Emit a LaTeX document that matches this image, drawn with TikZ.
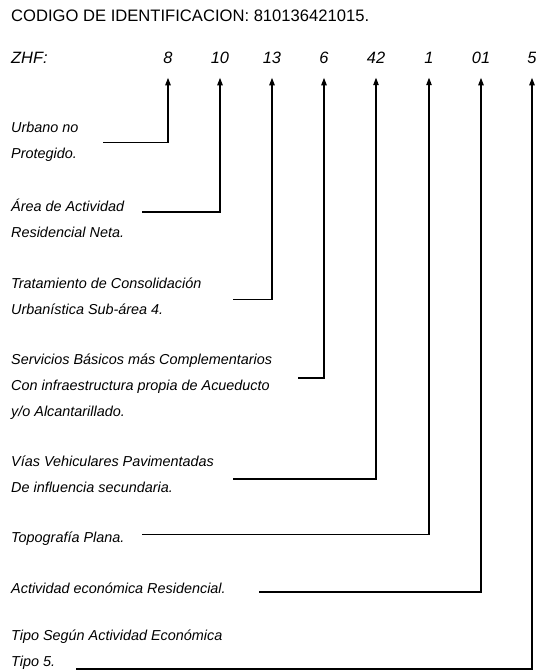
\documentclass[tikz,border=0pt]{standalone}
\usepackage{fontspec}
\setmainfont{Liberation Sans}
\usetikzlibrary{arrows.meta}
\begin{document}
\begin{tikzpicture}[
        x=1pt, y=-1pt,
        digit/.style={anchor=base, inner sep=0pt, font=\fontsize{16.4}{19}\selectfont\itshape},
        desc/.style={anchor=base west, inner sep=0pt, align=left, font=\fontsize{14.4}{25.7}\selectfont\itshape},
        arrow/.style={-{Triangle[width=5.5pt,length=7.5pt]}, line width=1.1pt, shorten >=14.5pt}
    ]
        \useasboundingbox (0,0) rectangle (536,670);

        % Title
        \node[anchor=base west, inner sep=0pt, font=\fontsize{16.6}{20}\selectfont] (title) at (11,21) {CODIGO DE IDENTIFICACION: 810136421015.};

        % Code digits
        \node[digit, anchor=base west] (zhf) at (11,63) {ZHF:};
        \node[digit] (d1) at (168,63) {8};
        \node[digit] (d2) at (220,63) {10};
        \node[digit] (d3) at (272,63) {13};
        \node[digit] (d4) at (324,63) {6};
        \node[digit] (d5) at (376,63) {42};
        \node[digit] (d6) at (429,63) {1};
        \node[digit] (d7) at (481,63) {01};
        \node[digit] (d8) at (532,63) {5};

        % Descriptions (base = last line)
        \node[desc] (urbano) at (11,158) {Urbano no\\Protegido.};
        \node[desc] (area) at (11,237.5) {Área de Actividad\\Residencial Neta.};
        \node[desc] (tratam) at (11,314.5) {Tratamiento de Consolidación\\Urbanística Sub-área 4.};
        \node[desc] (servic) at (11,416) {Servicios Básicos más Complementarios\\Con infraestructura propia de Acueducto\\y/o Alcantarillado.};
        \node[desc] (vias) at (11,492.5) {Vías Vehiculares Pavimentadas\\De influencia secundaria.};
        \node[desc] (topo) at (11,542.5) {Topografía Plana.};
        \node[desc] (activ) at (11,593) {Actividad económica Residencial.};
        \node[desc] (tipo) at (11,666.5) {Tipo Según Actividad Económica\\Tipo 5.};

        % Line starts
        \coordinate (s1) at (103,142.5);
        \coordinate (s2) at (142,212);
        \coordinate (s3) at (233,299.5);
        \coordinate (s4) at (298,378);
        \coordinate (s5) at (233,479);
        \coordinate (s6) at (142,534.5);
        \coordinate (s7) at (259,592);
        \coordinate (s8) at (76,669);

        % Connections
        \draw[arrow] (s1) -| (d1.south);
        \draw[arrow] (s2) -| (d2.south);
        \draw[arrow] (s3) -| (d3.south);
        \draw[arrow] (s4) -| (d4.south);
        \draw[arrow] (s5) -| (d5.south);
        \draw[arrow] (s6) -| (d6.south);
        \draw[arrow] (s7) -| (d7.south);
        \draw[arrow] (s8) -| (d8.south);
\end{tikzpicture}
\end{document}
